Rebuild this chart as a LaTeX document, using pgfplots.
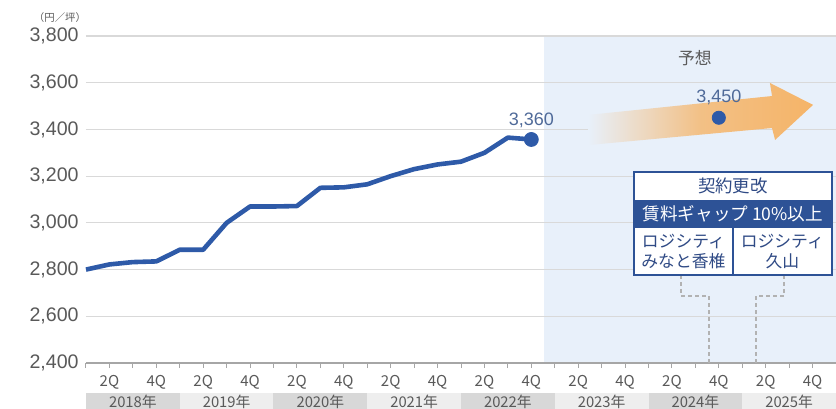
\documentclass[border=0pt]{standalone}
\usepackage{fontspec}
\setmainfont{Liberation Sans}
\newfontfamily\jp{Noto Sans CJK JP}
\usepackage{pgfplots}
\pgfplotsset{compat=1.18}

\definecolor{lineblue}{HTML}{2E5AA8}
\definecolor{boxblue}{HTML}{2D5296}
\definecolor{navy}{HTML}{2F4A85}
\definecolor{fcbg}{HTML}{E8F0FA}
\definecolor{arrowor}{HTML}{F5B468}
\definecolor{txtgray}{HTML}{595959}
\definecolor{lblblue}{HTML}{4F6A99}
\definecolor{banddark}{HTML}{D8D8D8}
\definecolor{bandlight}{HTML}{EEEEEE}

\begin{document}
\begin{tikzpicture}
\begin{axis}[
  set layers,
  scale only axis,
  width=375pt, height=163.5pt,
  xmin=0, xmax=32,
  ymin=2400, ymax=3800,
  clip=false,
  axis x line*=bottom, axis y line*=left,
  y axis line style={draw=none},
  x axis line style={draw=gray!70, line width=0.6pt},
  ytick={2400,2600,...,3800},
  ymajorgrids,
  grid style={draw=gray!30, line width=0.6pt},
  xtick={1,3,...,31},
  xticklabels={2Q,4Q,2Q,4Q,2Q,4Q,2Q,4Q,2Q,4Q,2Q,4Q,2Q,4Q,2Q,4Q},
  minor xtick={0,2,...,32},
  tick align=outside,
  major tick length=2.5pt, minor tick length=2.5pt,
  tick style={draw=gray!70, line width=0.5pt},
  ytick style={draw=none},
  tick label style={text=txtgray},
  yticklabel style={font=\fontsize{9.8}{10}\selectfont, inner sep=1pt},
  xticklabel style={font=\jp\fontsize{7.5}{8}\selectfont},
  /pgf/number format/assume math mode=true,
  /pgf/number format/1000 sep={,},
]

% forecast area
\begin{pgfonlayer}{axis background}
\fill[fcbg] (axis cs:19.55,2400) rectangle (axis cs:32,3800);
\end{pgfonlayer}

% year bands
\fill[banddark]  (axis cs:0,2271.6)  rectangle (axis cs:4,2190);
\fill[bandlight] (axis cs:4,2271.6)  rectangle (axis cs:8,2190);
\fill[banddark]  (axis cs:8,2271.6)  rectangle (axis cs:12,2190);
\fill[bandlight] (axis cs:12,2271.6) rectangle (axis cs:16,2190);
\fill[banddark]  (axis cs:16,2271.6) rectangle (axis cs:20,2190);
\fill[bandlight] (axis cs:20,2271.6) rectangle (axis cs:24,2190);
\fill[banddark]  (axis cs:24,2271.6) rectangle (axis cs:28,2190);
\fill[bandlight] (axis cs:28,2271.6) rectangle (axis cs:32,2190);
\begin{scope}[every node/.style={text=txtgray, font=\jp\fontsize{7.4}{8}\selectfont}]
\node at (axis cs:2,2235)  {2018年};
\node at (axis cs:6,2235)  {2019年};
\node at (axis cs:10,2235) {2020年};
\node at (axis cs:14,2235) {2021年};
\node at (axis cs:18,2235) {2022年};
\node at (axis cs:22,2235) {2023年};
\node at (axis cs:26,2235) {2024年};
\node at (axis cs:30,2235) {2025年};
\end{scope}

% unit
\node[text=txtgray, font=\jp\fontsize{5.2}{6}\selectfont] at (axis cs:-1.11,3881) {（円／坪）};

% forecast arrow
\shade[left color=fcbg, right color=arrowor, middle color=arrowor!80!fcbg]
  (axis cs:21.42,3333) -- (axis cs:21.42,3462) -- (axis cs:29.27,3543)
  -- (axis cs:29.18,3599) -- (axis cs:31.02,3505) -- (axis cs:29.40,3355)
  -- (axis cs:29.27,3406) -- cycle;

\node[text=txtgray, font=\jp\fontsize{8.4}{9}\selectfont] at (axis cs:25.98,3706) {予想};

% actual rent
\addplot[lineblue, line width=2.3pt, line join=round] coordinates {
  (0,2800) (1,2822) (2,2832) (3,2835) (4,2885) (5,2885) (6,3000) (7,3070)
  (8,3070) (9,3072) (10,3150) (11,3152) (12,3165) (13,3200) (14,3230)
  (15,3250) (16,3262) (17,3300) (18,3365) (19,3357)
};
\addplot[only marks, mark=*, mark size=3.5pt, lineblue] coordinates {(19,3357)};
\node[text=lblblue, font=\fontsize{9}{10}\selectfont] at (axis cs:19,3440) {3,360};

% forecast
\addplot[only marks, mark=*, mark size=3.3pt, lineblue] coordinates {(27,3450)};
\node[text=lblblue, font=\fontsize{9}{10}\selectfont] at (axis cs:27,3539) {3,450};

% connectors
\draw[gray!60, line width=0.6pt, dash pattern=on 2pt off 1.5pt]
  (axis cs:25.39,2776.8) -- (axis cs:25.39,2686.9) -- (axis cs:26.58,2686.9) -- (axis cs:26.58,2400);
\draw[gray!60, line width=0.6pt, dash pattern=on 2pt off 1.5pt]
  (axis cs:29.78,2776.8) -- (axis cs:29.78,2686.9) -- (axis cs:28.59,2686.9) -- (axis cs:28.59,2400);

% renewal box
\filldraw[fill=white, draw=boxblue, line width=0.8pt]
  (axis cs:23.38,3217.7) rectangle (axis cs:31.83,2776.8);
\fill[boxblue] (axis cs:23.38,3097.9) rectangle (axis cs:31.83,2978.0);
\draw[boxblue, line width=0.8pt] (axis cs:27.60,2978.0) -- (axis cs:27.60,2776.8);
\node[text=navy, font=\jp\fontsize{8.7}{9}\selectfont] at (axis cs:27.6,3157.8) {契約更改};
\node[text=white, font=\jp\fontsize{8.8}{9}\selectfont] at (axis cs:27.6,3038) {賃料ギャップ 10\%以上};
\node[text=navy, font=\jp\fontsize{8.4}{10}\selectfont, align=center] at (axis cs:25.49,2877.4) {ロジシティ\\みなと香椎};
\node[text=navy, font=\jp\fontsize{8.4}{10}\selectfont, align=center] at (axis cs:29.71,2877.4) {ロジシティ\\久山};

\coordinate (bbll) at (axis cs:-3.669,2207.3);
\coordinate (bbur) at (axis cs:32,3954.1);
\end{axis}
\pgfresetboundingbox
\useasboundingbox (bbll) rectangle (bbur);
\end{tikzpicture}
\end{document}
